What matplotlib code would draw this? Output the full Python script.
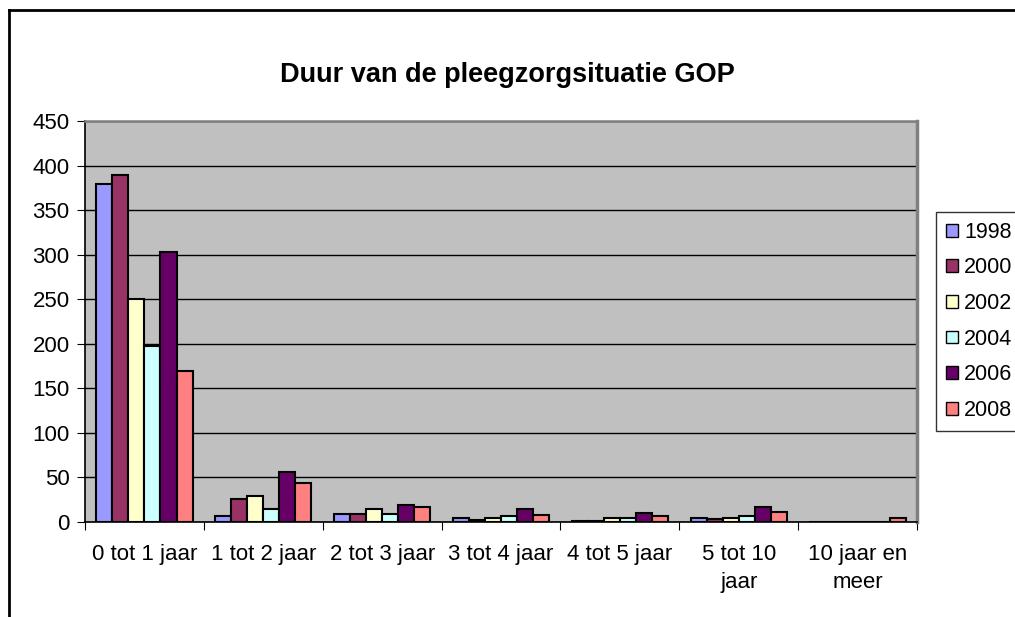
import numpy as np
import matplotlib
matplotlib.use('Agg')
import matplotlib.pyplot as plt
from matplotlib.lines import Line2D
from matplotlib.patches import Patch

plt.rcParams['font.family'] = ['Liberation Sans', 'DejaVu Sans']

# Data
categories = ['0 tot 1 jaar', '1 tot 2 jaar', '2 tot 3 jaar', '3 tot 4 jaar',
              '4 tot 5 jaar', '5 tot 10\njaar', '10 jaar en\nmeer']
years = ['1998', '2000', '2002', '2004', '2006', '2008']
v1998 = [379, 7, 9, 4, 1, 4, 0]
v2000 = [389, 26, 9, 2, 1, 3, 0]
v2002 = [250, 29, 15, 5, 5, 5, 0]
v2004 = [197, 15, 9, 7, 5, 7, 0]
v2006 = [303, 56, 19, 15, 10, 17, 0]
v2008 = [169, 44, 17, 8, 7, 11, 4]
series = [v1998, v2000, v2002, v2004, v2006, v2008]
colors = ['#9999FF', '#993366', '#FFFFCC', '#CCFFFF', '#660066', '#FF8080']

fig = plt.figure(figsize=(10.15, 6.17), dpi=100)
ax = fig.add_axes([85 / 1015, 95 / 617, 832 / 1015, 401 / 617])
ax.set_facecolor('#C0C0C0')

x = np.arange(len(categories))
w = 0.135
for i, (vals, c) in enumerate(zip(series, colors)):
    ax.bar(x + (i - 2.5) * w, vals, w, color=c, edgecolor='black', linewidth=1.5,
           label=years[i], zorder=3)

ax.set_ylim(0, 450)
ax.set_xlim(-0.5, len(categories) - 0.5)
ax.set_yticks(range(0, 451, 50))
ax.yaxis.grid(True, color='black', linewidth=1)
ax.set_axisbelow(True)
ax.tick_params(axis='y', labelsize=16, length=6, direction='out', pad=5)

# category boundaries get the tick marks, labels sit in between
ax.set_xticks(np.arange(len(categories) + 1) - 0.5)
ax.set_xticklabels([])
ax.set_xticks(x, minor=True)
ax.set_xticklabels(categories, minor=True, fontsize=16, linespacing=1.45)
ax.tick_params(axis='x', which='major', length=6)
ax.tick_params(axis='x', which='minor', length=0, pad=16)

for s in ['top', 'right']:
    ax.spines[s].set_color('#808080')
ax.spines['top'].set_linewidth(1.8)
ax.spines['right'].set_linewidth(2.5)
for s in ['left', 'bottom']:
    ax.spines[s].set_color('black')
    ax.spines[s].set_linewidth(1.2)

fig.text(0.5, 1 - 75 / 617, 'Duur van de pleegzorgsituatie GOP', ha='center',
         va='center', fontsize=19.5, fontweight='bold')

handles = [Patch(facecolor=c, edgecolor='black', label=y) for c, y in zip(colors, years)]
leg = fig.legend(handles=handles, loc='upper left',
                 bbox_to_anchor=(936 / 1015, 1 - 212 / 617), fontsize=15.5,
                 frameon=True, fancybox=False, edgecolor='black',
                 handlelength=0.55, handleheight=0.55, handletextpad=0.3,
                 labelspacing=0.68, borderpad=0.45, borderaxespad=0)
leg.get_frame().set_linewidth(1)

# outer chart frame
fig.add_artist(Line2D([9 / 1015, 9 / 1015], [0, 1 - 10 / 617], color='black', linewidth=2))
fig.add_artist(Line2D([9 / 1015, 1], [1 - 10 / 617, 1 - 10 / 617], color='black', linewidth=2))

fig.savefig('out.png', dpi=100)
